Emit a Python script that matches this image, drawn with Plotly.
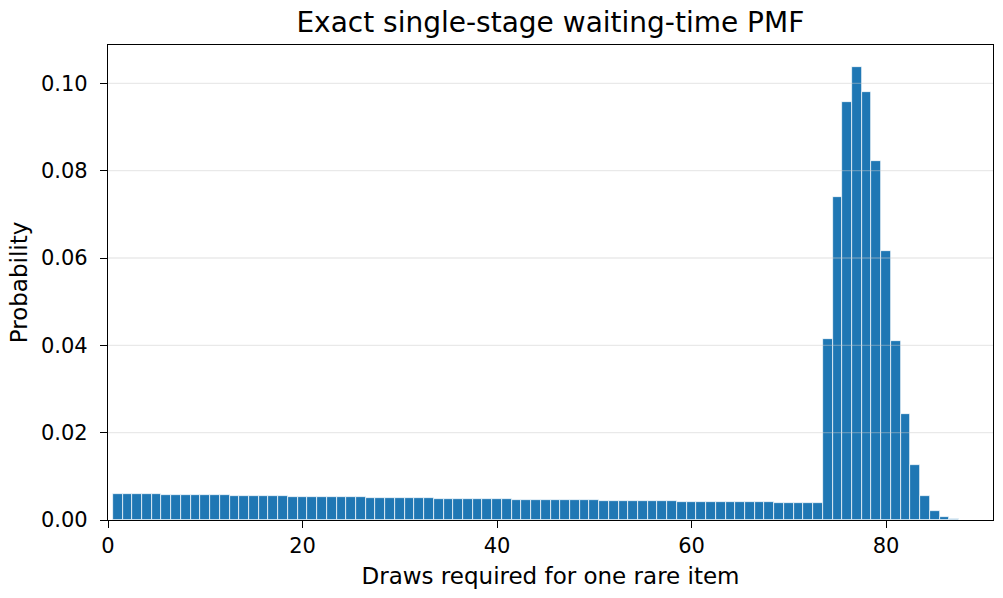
import plotly.graph_objects as go

draws = list(range(1, 91))
prob_flat = [
    0.00600, 0.00596, 0.00593, 0.00589, 0.00586, 0.00582, 0.00579, 0.00575, 0.00572, 0.00568,
    0.00565, 0.00562, 0.00558, 0.00555, 0.00552, 0.00548, 0.00545, 0.00542, 0.00538, 0.00535,
    0.00532, 0.00529, 0.00526, 0.00522, 0.00519, 0.00516, 0.00513, 0.00510, 0.00507, 0.00504,
    0.00501, 0.00498, 0.00495, 0.00492, 0.00489, 0.00486, 0.00483, 0.00480, 0.00477, 0.00475,
    0.00472, 0.00469, 0.00466, 0.00463, 0.00460, 0.00458, 0.00455, 0.00452, 0.00450, 0.00447,
    0.00444, 0.00441, 0.00439, 0.00436, 0.00434, 0.00431, 0.00428, 0.00426, 0.00423, 0.00421,
    0.00418, 0.00416, 0.00413, 0.00411, 0.00408, 0.00406, 0.00403, 0.00401, 0.00399, 0.00396,
    0.00394, 0.00391, 0.00389,
]
prob_soft = [
    0.0414, 0.0740, 0.0958, 0.1037, 0.0980, 0.0822, 0.0615, 0.0410, 0.0242, 0.0126,
    0.0056, 0.0021, 0.0008, 0.0002, 0.00004, 0.00001, 0.000001,
]
probs = prob_flat + prob_soft

x_ticks = [0, 20, 40, 60, 80]
y_ticks = [0, 0.02, 0.04, 0.06, 0.08, 0.10]

fig = go.Figure(go.Bar(
    x=draws, y=probs, width=1.0,
    marker=dict(color="#1f77b4", line=dict(color="white", width=0.7)),
))

# horizontal grid drawn above the bars (as in the reference)
for yv in y_ticks[1:]:
    fig.add_shape(type="line", xref="paper", yref="y", x0=0, x1=1, y0=yv, y1=yv,
                  layer="above", line=dict(color="rgba(200,200,200,0.4)", width=1.3))

tick_font = dict(family="DejaVu Sans", size=21, color="black")
label_font = dict(family="DejaVu Sans", size=23, color="black")
fig.update_layout(
    width=1003, height=598,
    margin=dict(l=108, r=10, t=45, b=78),
    paper_bgcolor="white", plot_bgcolor="white",
    bargap=0,
    showlegend=False,
    font=dict(family="DejaVu Sans", size=21, color="black"),
    title=dict(text="Exact single-stage waiting-time PMF", x=0.5487, xanchor="center",
               y=0.963, yanchor="middle", font=dict(family="DejaVu Sans", size=28, color="black")),
    xaxis=dict(range=[0, 91], tickvals=x_ticks, ticks="outside", ticklen=7,
               tickwidth=1.3, tickcolor="black", showline=True, linecolor="black", linewidth=1.3,
               mirror=True, showgrid=False, zeroline=False, tickfont=tick_font,
               title=dict(text="Draws required for one rare item", font=label_font, standoff=10)),
    yaxis=dict(range=[0, 0.10878], tickvals=y_ticks, tickformat=".2f",
               ticks="outside", ticklen=7, tickwidth=1.3, tickcolor="black", showline=True,
               linecolor="black", linewidth=1.3, mirror=True, showgrid=False,
               zeroline=False, tickfont=tick_font, ticklabelstandoff=8,
               title=dict(text="Probability", font=label_font, standoff=6)),
)

fig.write_html("out.html")
